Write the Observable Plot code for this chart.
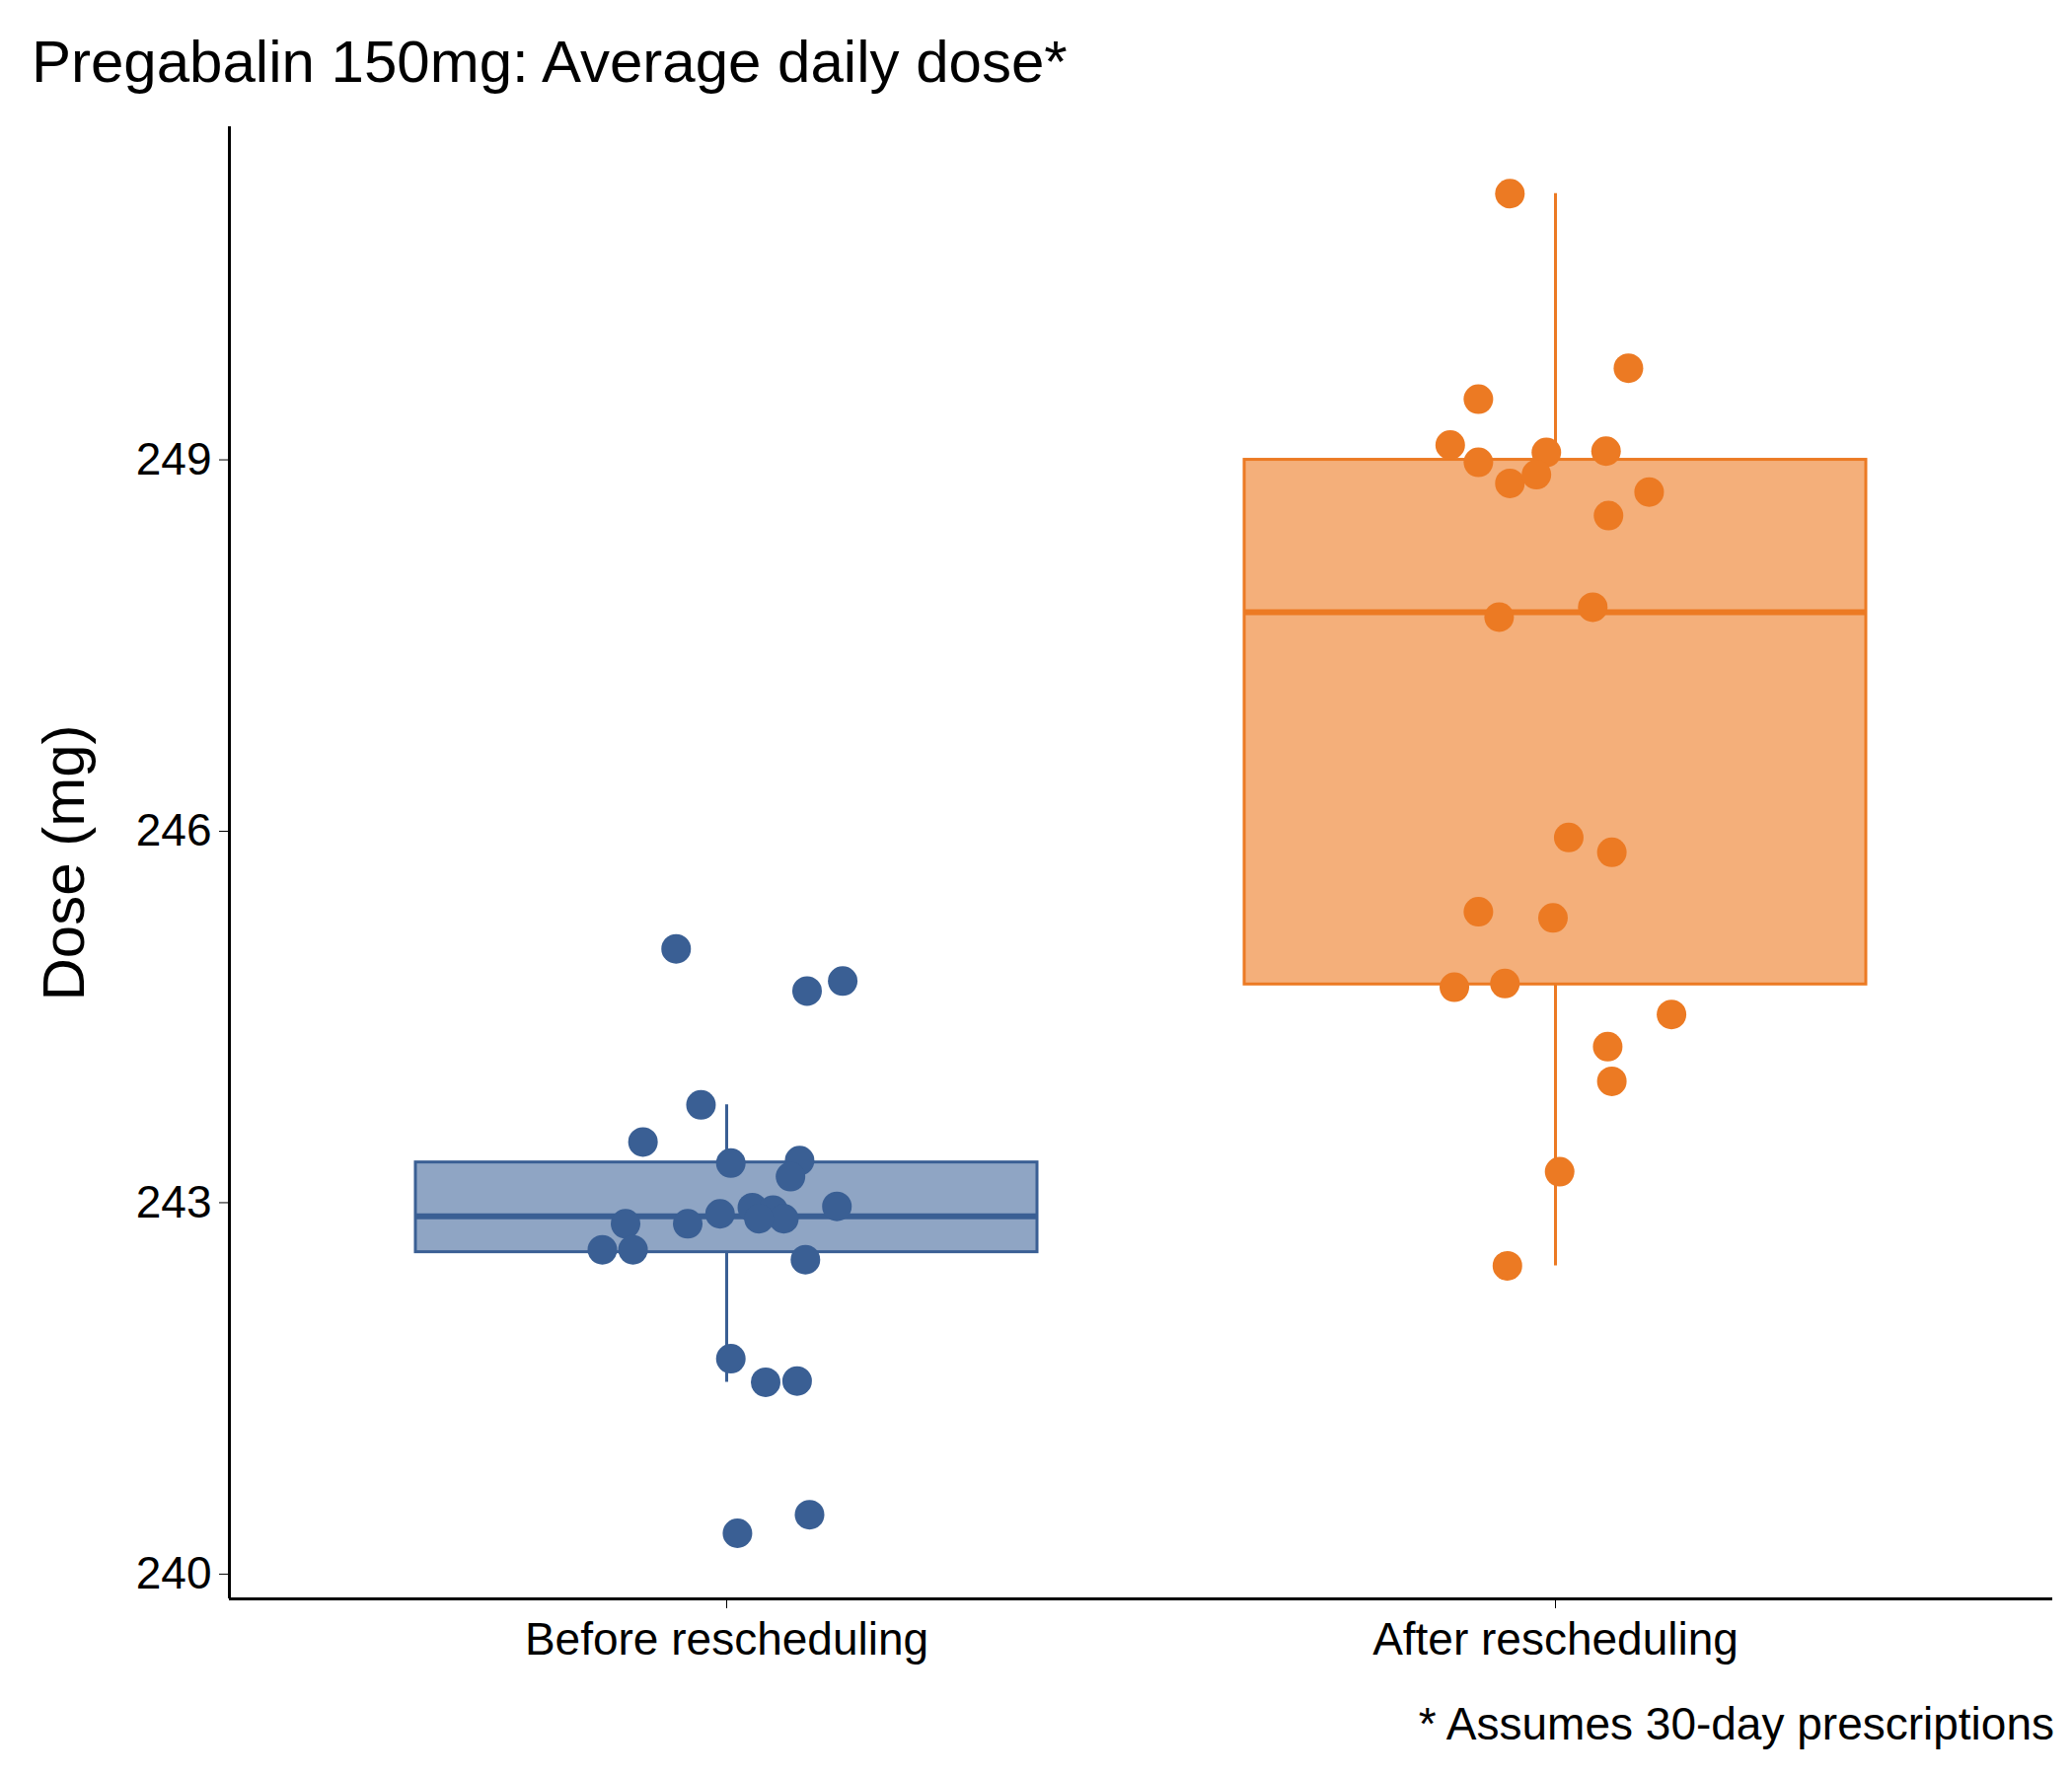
<!DOCTYPE html>
<html><head><meta charset="utf-8">
<script src="https://cdn.jsdelivr.net/npm/d3@7"></script>
<script src="https://cdn.jsdelivr.net/npm/@observablehq/plot@0.6"></script>
<style>
body{margin:0;background:#fff;font-family:Arial,"Liberation Sans",sans-serif;}
#wrap{position:relative;width:2100px;height:1800px;}
#title{position:absolute;left:32px;top:28px;font-size:60px;color:#000;}
#cap{position:absolute;right:18px;top:1720px;font-size:46px;color:#000;}
#chart{position:absolute;left:0;top:100px;}
</style></head>
<body><div id="wrap"><div id="title">Pregabalin 150mg: Average daily dose*</div><div id="chart"></div><div id="cap">* Assumes 30-day prescriptions</div></div>
<script>
const groups = ["Before rescheduling", "After rescheduling"]
const colors = ["#3a5f94", "#ec7a23"]
const fills = ["#8fa5c4", "#f4af7a"]

const beforeVals = [245.05,244.71,244.79,243.79,243.49,243.32,243.34,243.21,242.83,242.83,242.91,242.96,242.94,242.87,242.87,242.97,242.62,242.62,242.54,241.74,241.55,241.56,240.33,240.48]
const beforeJit = [-0.061,0.097,0.140,-0.031,-0.101,0.005,0.088,0.077,-0.122,-0.047,-0.008,0.031,0.056,0.069,0.039,0.133,-0.150,-0.113,0.095,0.005,0.047,0.085,0.013,0.100]
const afterVals = [251.15,249.74,249.49,249.12,249.06,249.07,248.98,248.81,248.88,248.74,248.55,247.73,247.81,245.95,245.83,245.35,245.30,244.74,244.77,244.52,244.26,243.98,243.25,242.49]
const afterJit = [-0.055,0.088,-0.093,-0.127,-0.011,0.061,-0.093,-0.055,-0.023,0.113,0.064,-0.068,0.045,0.016,0.068,-0.093,-0.003,-0.122,-0.061,0.140,0.063,0.068,0.005,-0.058]

const points = [
  ...beforeVals.map((v,i)=>({g:0, x:1+beforeJit[i], y:v})),
  ...afterVals.map((v,i)=>({g:1, x:2+afterJit[i], y:v}))
]
const stats = [beforeVals, afterVals].map((vals,g)=>{
  const s = vals.slice().sort(d3.ascending)
  const q1 = d3.quantile(s,0.25), q3 = d3.quantile(s,0.75), med = d3.quantile(s,0.5)
  const iqr = q3-q1
  const lo = d3.min(s.filter(v=>v>=q1-1.5*iqr)), hi = d3.max(s.filter(v=>v<=q3+1.5*iqr))
  return {g, x:g+1, q1, q3, med, lo, hi}
})
const hw = 0.375

const chart = Plot.plot({
  width: 2100, height: 1620,
  marginLeft: 232, marginRight: 20, marginTop: 28, marginBottom: 100,
  style: {fontFamily: "Arial, 'Liberation Sans', sans-serif", fontSize: "46px", color: "#000"},
  x: {domain: [0.4, 2.6], ticks: [1,2], tickFormat: d => groups[d-1], tickSize: 10, tickPadding: 14, label: null},
  y: {domain: [239.8, 251.69], ticks: [240,243,246,249], tickSize: 10, tickPadding: 8, label: "Dose (mg)", labelAnchor: "center", labelArrow: "none", labelOffset: 190},
  marks: [
    Plot.ruleX(stats, {x: "x", y1: "lo", y2: "hi", stroke: d=>colors[d.g], strokeWidth: 3}),
    Plot.rect(stats, {x1: d=>d.x-hw, x2: d=>d.x+hw, y1: "q1", y2: "q3", fill: d=>fills[d.g], stroke: d=>colors[d.g], strokeWidth: 3}),
    Plot.ruleY(stats, {x1: d=>d.x-hw, x2: d=>d.x+hw, y: "med", stroke: d=>colors[d.g], strokeWidth: 6}),
    Plot.dot(points, {x: "x", y: "y", r: 15, fill: d=>colors[d.g], stroke: "none"}),
    Plot.ruleX([0.4], {strokeWidth: 3}),
    Plot.ruleY([239.8], {strokeWidth: 3})
  ]
})
d3.select(chart).selectAll("[aria-label='y-axis label'] text").style("font-size","60px")
d3.select("#chart").append(() => chart)
</script></body></html>
